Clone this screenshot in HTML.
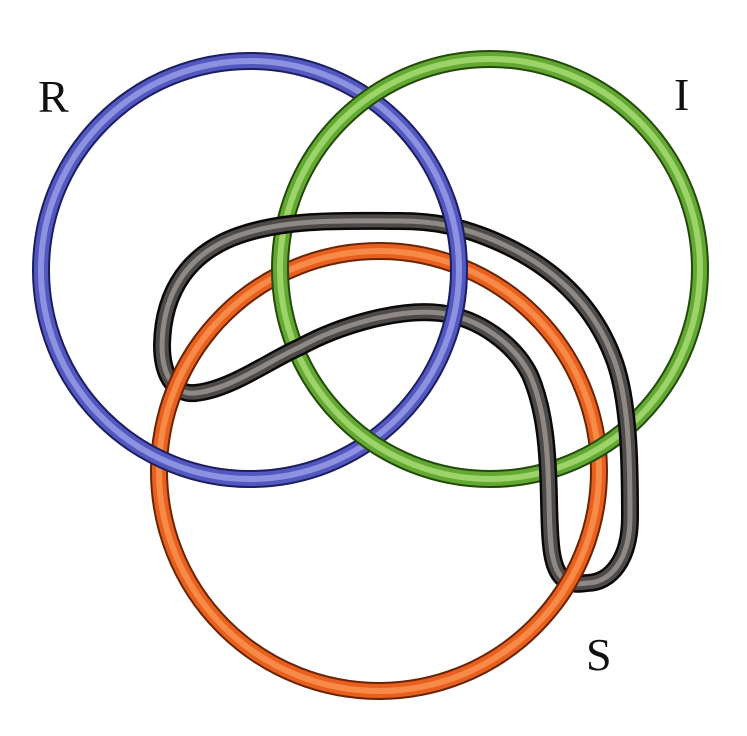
<!DOCTYPE html>
<html><head><meta charset="utf-8"><style>
html,body{margin:0;padding:0;background:#fff;}
svg{display:block;}
text{font-family:"Liberation Serif","Times New Roman",serif;font-size:46px;fill:#111;}
</style></head><body>
<svg width="747" height="736" viewBox="0 0 747 736" xmlns="http://www.w3.org/2000/svg">
<defs>
<clipPath id="cb"><rect x="425" y="195" width="55" height="55"/><rect x="425" y="285" width="55" height="55"/></clipPath>
<clipPath id="co"><rect x="150" y="335" width="70" height="75"/><rect x="535" y="540" width="80" height="70"/></clipPath>
<g id="orange">
<circle cx="379" cy="471" r="220" fill="none" stroke="#6a2404" stroke-width="18"/>
<circle cx="379" cy="471" r="220" fill="none" stroke="#e8601e" stroke-width="14"/>
<circle cx="379" cy="471" r="220" fill="none" stroke="#f88a48" stroke-width="6"/>
</g>
<g id="blue">
<circle cx="250" cy="270" r="209" fill="none" stroke="#1c1e60" stroke-width="18"/>
<circle cx="250" cy="270" r="209" fill="none" stroke="#5258c0" stroke-width="14"/>
<circle cx="250" cy="270" r="209" fill="none" stroke="#8c92e0" stroke-width="6"/>
</g>
<g id="green">
<circle cx="490" cy="269" r="210" fill="none" stroke="#244a0a" stroke-width="18"/>
<circle cx="490" cy="269" r="210" fill="none" stroke="#62a832" stroke-width="14"/>
<circle cx="490" cy="269" r="210" fill="none" stroke="#9cd46a" stroke-width="6"/>
</g>
<path id="bp" d="M 587 583 C 610 583, 630 560, 630 517 C 630 470, 630 400, 613 357 C 595 310, 560 270, 500 243 C 460 225, 430 221, 400 221 C 350 221, 290 218, 240 235 C 190 252, 163 290, 162 345 C 162 380, 178 395, 195 393 C 230 390, 270 360, 300 347 C 340 325, 400 308, 440 313 C 480 318, 515 345, 530 375 C 545 410, 548 450, 549 500 C 550 540, 550 570, 565 580 C 573 585, 580 584, 587 583 Z" fill="none"/>
</defs>
<use href="#orange"/>
<use href="#blue"/>
<use href="#green"/>
<use href="#bp" stroke="#0a0909" stroke-width="18"/>
<use href="#bp" stroke="#4e4a48" stroke-width="13"/>
<use href="#bp" stroke="#8e8985" stroke-width="5"/>
<g clip-path="url(#cb)"><use href="#blue"/></g>
<g clip-path="url(#co)"><use href="#orange"/></g>
<text x="38" y="112">R</text>
<text x="674" y="110">I</text>
<text x="586" y="670">S</text>
</svg>
</body></html>
